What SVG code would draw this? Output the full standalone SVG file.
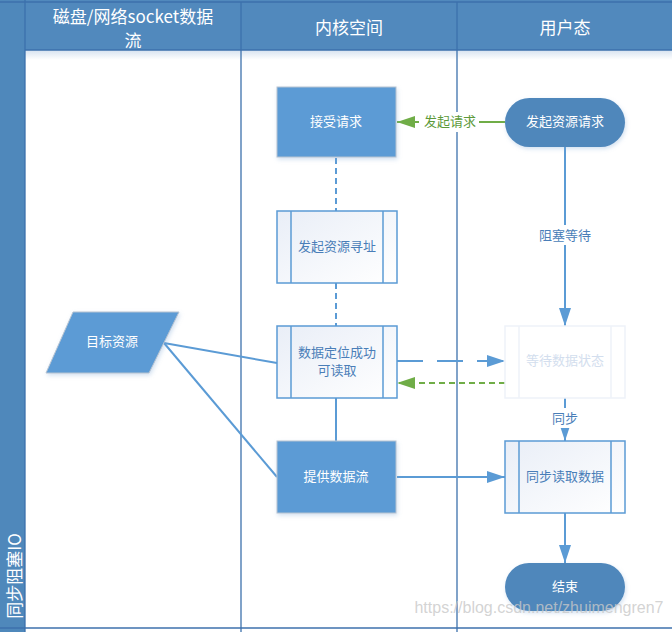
<svg xmlns="http://www.w3.org/2000/svg" width="672" height="632" viewBox="0 0 672 632">
<defs>
<linearGradient id="sub" x1="0" y1="0" x2="1" y2="1">
<stop offset="0" stop-color="#E9EEF7"/><stop offset="1" stop-color="#FFFFFF"/>
</linearGradient>
<linearGradient id="hshadow" x1="0" y1="0" x2="0" y2="1">
<stop offset="0" stop-color="#D6E2F0"/><stop offset="1" stop-color="#FFFFFF"/>
</linearGradient>
<marker id="abig" viewBox="0 0 10 10" refX="10" refY="5" markerWidth="18" markerHeight="12" orient="auto" markerUnits="userSpaceOnUse" preserveAspectRatio="none">
<path d="M0,0 L10,5 L0,10 z" fill="#5B9BD5"/>
</marker>
<marker id="ag" viewBox="0 0 10 10" refX="10" refY="5" markerWidth="18" markerHeight="12" orient="auto" markerUnits="userSpaceOnUse" preserveAspectRatio="none">
<path d="M0,0 L10,5 L0,10 z" fill="#70AD47"/>
</marker>
<filter id="sh" x="-10%" y="-10%" width="130%" height="130%">
<feDropShadow dx="1" dy="2" stdDeviation="2" flood-color="#7FA7D4" flood-opacity="0.35"/>
</filter>
</defs>
<style>
.t{font-family:"Noto Sans CJK SC","Liberation Sans",sans-serif;font-size:13px;text-anchor:middle;dominant-baseline:central}
.w{fill:#FFFFFF}
.b{fill:#4A7EB8}
.h{font-family:"Noto Sans CJK SC","Liberation Sans",sans-serif;font-size:17px;fill:#FFFFFF;text-anchor:middle;dominant-baseline:central}
.lane{stroke:#3C71AC;stroke-width:1.3;fill:none}
.c{stroke:#5B9BD5;stroke-width:2;fill:none}
.sub{fill:url(#sub);stroke:#5B9BD5;stroke-width:1.5}
</style>
<rect x="0" y="0" width="672" height="632" fill="#FFFFFF"/>
<g id="pool">
<rect x="25" y="50" width="647" height="10" fill="url(#hshadow)"/>
<rect x="0" y="0" width="25" height="632" fill="#4F88BB"/>
<rect x="25" y="0" width="647" height="50" fill="#5189BD"/>
<line x1="0" y1="2" x2="672" y2="2" class="lane"/>
<line x1="25" y1="50" x2="672" y2="50" class="lane"/>
<line x1="25" y1="0" x2="25" y2="632" class="lane"/>
<line x1="241" y1="2" x2="241" y2="632" class="lane"/>
<line x1="457" y1="2" x2="457" y2="632" class="lane"/>
<line x1="0" y1="628" x2="672" y2="628" class="lane"/>
<text class="h" x="133" y="15">磁盘/网络socket数据</text>
<text class="h" x="133" y="39">流</text>
<text class="h" x="349" y="26">内核空间</text>
<text class="h" x="565" y="26">用户态</text>
<text class="h" transform="translate(13,576) rotate(-90)">同步阻塞IO</text>
</g>
<g id="connectors">
<line x1="336" y1="158" x2="336" y2="211" class="c" stroke-dasharray="6,4"/>
<line x1="336" y1="283" x2="336" y2="326" class="c" stroke-dasharray="6,4"/>
<line x1="336" y1="398" x2="336" y2="441" class="c"/>
<line x1="164" y1="343" x2="277" y2="363" class="c"/>
<line x1="164" y1="343" x2="277" y2="477" class="c"/>
<line x1="505" y1="122" x2="397" y2="122" stroke="#70AD47" stroke-width="2" marker-end="url(#ag)"/>
<rect x="419" y="112" width="60" height="20" fill="#FFFFFF"/>
<text class="t" x="450" y="120" fill="#5D9A3A">发起请求</text>
<line x1="565" y1="147" x2="565" y2="326" class="c" marker-end="url(#abig)"/>
<rect x="533" y="225" width="64" height="20" fill="#FFFFFF"/>
<text class="t" x="565" y="234" fill="#4A7EB8">阻塞等待</text>
<line x1="397" y1="361" x2="505" y2="361" class="c" stroke-dasharray="26,14" marker-end="url(#abig)"/>
<line x1="505" y1="383" x2="397" y2="383" stroke="#70AD47" stroke-width="2" stroke-dasharray="6,4" marker-end="url(#ag)"/>
<line x1="565" y1="398" x2="565" y2="441" class="c" marker-end="url(#abig)"/>
<rect x="546" y="408" width="38" height="20" fill="#FFFFFF"/>
<text class="t" x="565" y="417" fill="#4A7EB8">同步</text>
<line x1="397" y1="477" x2="505" y2="477" class="c" marker-end="url(#abig)"/>
<line x1="565" y1="513" x2="565" y2="563" class="c" marker-end="url(#abig)"/>
</g>
<g id="n1">
<rect x="277" y="87" width="119" height="70" fill="#5B9BD5" stroke="#B7C3D1" stroke-width="1" filter="url(#sh)"/>
<text class="t w" x="336" y="120">接受请求</text>
</g>
<g id="n2">
<rect x="505" y="98" width="120" height="49" rx="24.5" fill="#4F87BB" filter="url(#sh)"/>
<text class="t w" x="565" y="120">发起资源请求</text>
</g>
<g id="n3">
<rect x="277" y="211" width="120" height="72" class="sub"/>
<line x1="291" y1="211" x2="291" y2="283" stroke="#5B9BD5" stroke-width="1.5"/>
<line x1="383" y1="211" x2="383" y2="283" stroke="#5B9BD5" stroke-width="1.5"/>
<text class="t b" x="337" y="245">发起资源寻址</text>
</g>
<g id="n4">
<rect x="277" y="326" width="120" height="72" class="sub"/>
<line x1="291" y1="326" x2="291" y2="398" stroke="#5B9BD5" stroke-width="1.5"/>
<line x1="383" y1="326" x2="383" y2="398" stroke="#5B9BD5" stroke-width="1.5"/>
<text class="t b" x="337" y="351">数据定位成功</text>
<text class="t b" x="337" y="369">可读取</text>
</g>
<g id="n5">
<polygon points="73,312 179,312 149,373 46,373" fill="#5B9BD5" stroke="#B7C3D1" stroke-width="1" filter="url(#sh)"/>
<text class="t w" x="112" y="340">目标资源</text>
</g>
<g id="n6">
<rect x="277" y="441" width="119" height="72" fill="#5B9BD5" stroke="#B7C3D1" stroke-width="1" filter="url(#sh)"/>
<text class="t w" x="336" y="475">提供数据流</text>
</g>
<g id="n7">
<rect x="505" y="326" width="120" height="72" fill="#FFFFFF" stroke="#EEF2F9" stroke-width="1.5"/>
<line x1="519" y1="326" x2="519" y2="398" stroke="#EEF2F9" stroke-width="1.5"/>
<line x1="611" y1="326" x2="611" y2="398" stroke="#EEF2F9" stroke-width="1.5"/>
<text class="t" x="565" y="359" fill="#D3DEEE">等待数据状态</text>
</g>
<g id="n8">
<rect x="505" y="441" width="120" height="72" class="sub"/>
<line x1="519" y1="441" x2="519" y2="513" stroke="#5B9BD5" stroke-width="1.5"/>
<line x1="611" y1="441" x2="611" y2="513" stroke="#5B9BD5" stroke-width="1.5"/>
<text class="t b" x="565" y="475">同步读取数据</text>
</g>
<g id="n9">
<rect x="505" y="563" width="120" height="48" rx="24" fill="#4F87BB" filter="url(#sh)"/>
<text class="t w" x="565" y="585">结束</text>
</g>
<text x="539" y="613" font-family="Liberation Sans,sans-serif" font-size="16" fill="#C8C8C8" fill-opacity="0.8" text-anchor="middle">https://blog.csdn.net/zhuimengren7</text>
</svg>
